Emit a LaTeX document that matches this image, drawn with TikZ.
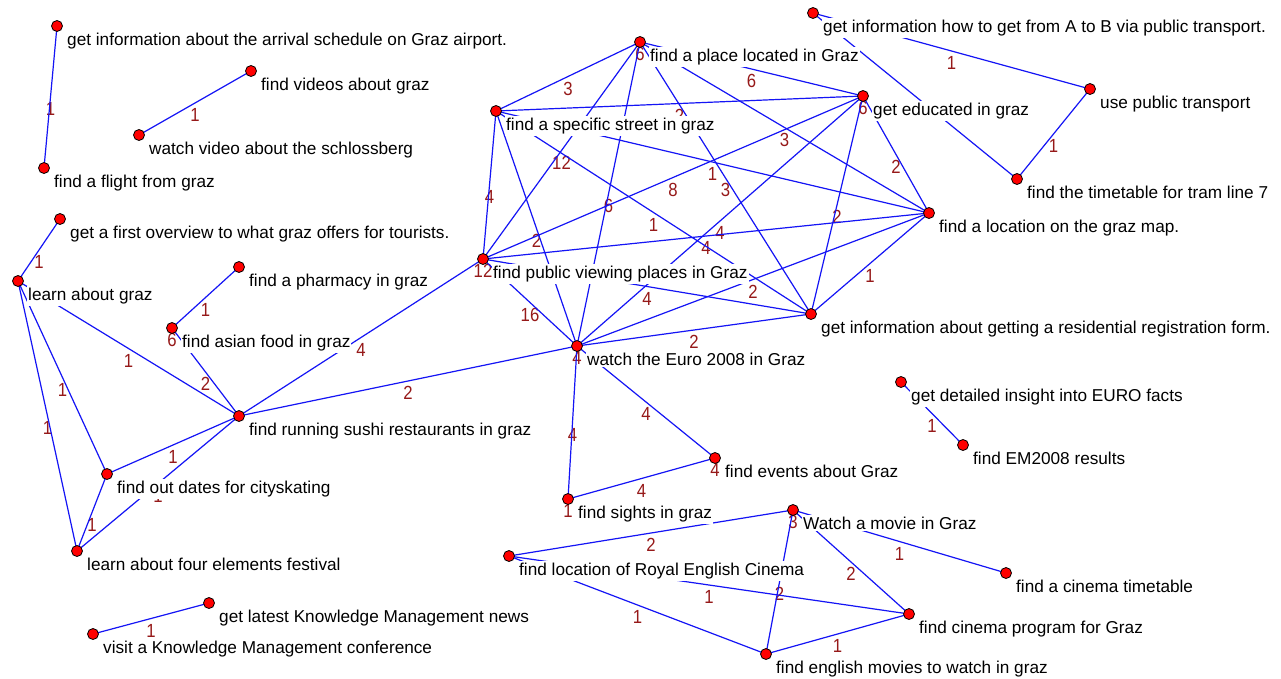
\documentclass[tikz,border=0pt]{standalone}
\usepackage{fontspec}
\setmainfont{Liberation Sans}
\definecolor{edgeblue}{RGB}{20,20,245}
\definecolor{labred}{RGB}{150,25,25}
\begin{document}
\begin{tikzpicture}[x=1pt,y=-1pt,
  edge/.style={draw=edgeblue, line width=1.2pt},
  lab/.style={text=labred, font=\fontsize{19}{19}\selectfont, inner sep=0pt, xscale=0.88},
  dot/.style={circle, fill=red, draw=black, line width=0.8pt, minimum size=11pt, inner sep=0pt},
  txt/.style={anchor=base west, fill=white, inner xsep=1pt, inner ysep=1.8pt, font=\fontsize{17.2}{17.2}\selectfont, text=black}]
\useasboundingbox[fill=white] (0,0) rectangle (1281,678);
% node positions
\foreach \n/\x/\y in {arr/57/26, flight/44/168, vid/251/71, sch/139/135, over/60/219, learn/18/281,
  pharm/239/267, asian/172/328, sushi/239/416, skate/107/474, four/77/551, kmnews/209/603, kmconf/93/634,
  P/640/42, S/496/111, E/863/96, L/929/213, V/483/259, R/811/314, W/577/346,
  AB/813/13, pub/1090/89, tram/1017/179, euro/901/382, em/963/445,
  events/715/458, sights/568/499, movie/793/510, royal/509/556, ctime/1006/573, cprog/909/614, eng/766/654}
  {\coordinate (\n) at (\x,\y);}
\def\edgelist{arr/flight/1, vid/sch/1, over/learn/1, learn/sushi/1, learn/skate/1, learn/four/1,
  pharm/asian/1, asian/sushi/2, sushi/V/4, sushi/W/2, sushi/skate/1, sushi/four/1, skate/four/1,
  kmnews/kmconf/1, W/sights/4, W/events/4, sights/events/4, movie/royal/2, movie/ctime/1,
  movie/cprog/2, movie/eng/2, royal/cprog/1, royal/eng/1, cprog/eng/1, AB/pub/1, pub/tram/1, euro/em/1,
  P/S/3, P/E/6, P/L/3, P/V/12, P/W/6, P/R/3, S/E/2, S/L/1, S/V/4, S/R/1, S/W/2, E/L/2, E/V/8,
  E/R/2, E/W/4, L/V/4, L/R/1, L/W/2, V/R/4, V/W/16, R/W/2}
% edge labels
\foreach \a/\b/\l in \edgelist {\path (\a) -- (\b) node[lab, midway, yshift=-12pt] {\l};}
% sub labels
\foreach \n/\l in {P/6, E/6, V/12, W/4, asian/6, events/4, sights/1, movie/3}
  {\node[lab, yshift=-12pt] at (\n) {\l};}
% edges
\foreach \a/\b/\l in \edgelist {\draw[edge] (\a) -- (\b);}
\draw[edge] (AB) -- (tram);
% dots
\foreach \n in {arr, flight, vid, sch, over, learn, pharm, asian, sushi, skate, four, kmnews, kmconf,
  P, S, E, L, V, R, W, AB, pub, tram, euro, em, events, sights, movie, royal, ctime, cprog, eng}
  {\node[dot] (\n-d) at (\n) {};}
% texts
\node[txt] (arr-t) at ([xshift=9pt,yshift=-19.5pt]arr) {get information about the arrival schedule on Graz airport.};
\node[txt] (flight-t) at ([xshift=9pt,yshift=-19.5pt]flight) {find a flight from graz};
\node[txt] (vid-t) at ([xshift=9pt,yshift=-19.5pt]vid) {find videos about graz};
\node[txt] (sch-t) at ([xshift=9pt,yshift=-19.5pt]sch) {watch video about the schlossberg};
\node[txt] (over-t) at ([xshift=9pt,yshift=-19.5pt]over) {get a first overview to what graz offers for tourists.};
\node[txt] (learn-t) at ([xshift=9pt,yshift=-19.5pt]learn) {learn about graz};
\node[txt] (pharm-t) at ([xshift=9pt,yshift=-19.5pt]pharm) {find a pharmacy in graz};
\node[txt] (asian-t) at ([xshift=9pt,yshift=-19.5pt]asian) {find asian food in graz};
\node[txt] (sushi-t) at ([xshift=9pt,yshift=-19.5pt]sushi) {find running sushi restaurants in graz};
\node[txt] (skate-t) at ([xshift=9pt,yshift=-19.5pt]skate) {find out dates for cityskating};
\node[txt] (four-t) at ([xshift=9pt,yshift=-19.5pt]four) {learn about four elements festival};
\node[txt] (kmnews-t) at ([xshift=9pt,yshift=-19.5pt]kmnews) {get latest Knowledge Management news};
\node[txt] (kmconf-t) at ([xshift=9pt,yshift=-19.5pt]kmconf) {visit a Knowledge Management conference};
\node[txt] (P-t) at ([xshift=9pt,yshift=-19.5pt]P) {find a place located in Graz};
\node[txt] (S-t) at ([xshift=9pt,yshift=-19.5pt]S) {find a specific street in graz};
\node[txt] (E-t) at ([xshift=9pt,yshift=-19.5pt]E) {get educated in graz};
\node[txt] (L-t) at ([xshift=9pt,yshift=-19.5pt]L) {find a location on the graz map.};
\node[txt] (V-t) at ([xshift=9pt,yshift=-19.5pt]V) {find public viewing places in Graz};
\node[txt] (R-t) at ([xshift=9pt,yshift=-19.5pt]R) {get information about getting a residential registration form.};
\node[txt] (W-t) at ([xshift=9pt,yshift=-19.5pt]W) {watch the Euro 2008 in Graz};
\node[txt] (AB-t) at ([xshift=9pt,yshift=-19.5pt]AB) {get information how to get from A to B via public transport.};
\node[txt] (pub-t) at ([xshift=9pt,yshift=-19.5pt]pub) {use public transport};
\node[txt] (tram-t) at ([xshift=9pt,yshift=-19.5pt]tram) {find the timetable for tram line 7};
\node[txt] (euro-t) at ([xshift=9pt,yshift=-19.5pt]euro) {get detailed insight into EURO facts};
\node[txt] (em-t) at ([xshift=9pt,yshift=-19.5pt]em) {find EM2008 results};
\node[txt] (events-t) at ([xshift=9pt,yshift=-19.5pt]events) {find events about Graz};
\node[txt] (sights-t) at ([xshift=9pt,yshift=-19.5pt]sights) {find sights in graz};
\node[txt] (movie-t) at ([xshift=9pt,yshift=-19.5pt]movie) {Watch a movie in Graz};
\node[txt] (royal-t) at ([xshift=9pt,yshift=-19.5pt]royal) {find location of Royal English Cinema};
\node[txt] (ctime-t) at ([xshift=9pt,yshift=-19.5pt]ctime) {find a cinema timetable};
\node[txt] (cprog-t) at ([xshift=9pt,yshift=-19.5pt]cprog) {find cinema program for Graz};
\node[txt] (eng-t) at ([xshift=9pt,yshift=-19.5pt]eng) {find english movies to watch in graz};
\end{tikzpicture}
\end{document}
